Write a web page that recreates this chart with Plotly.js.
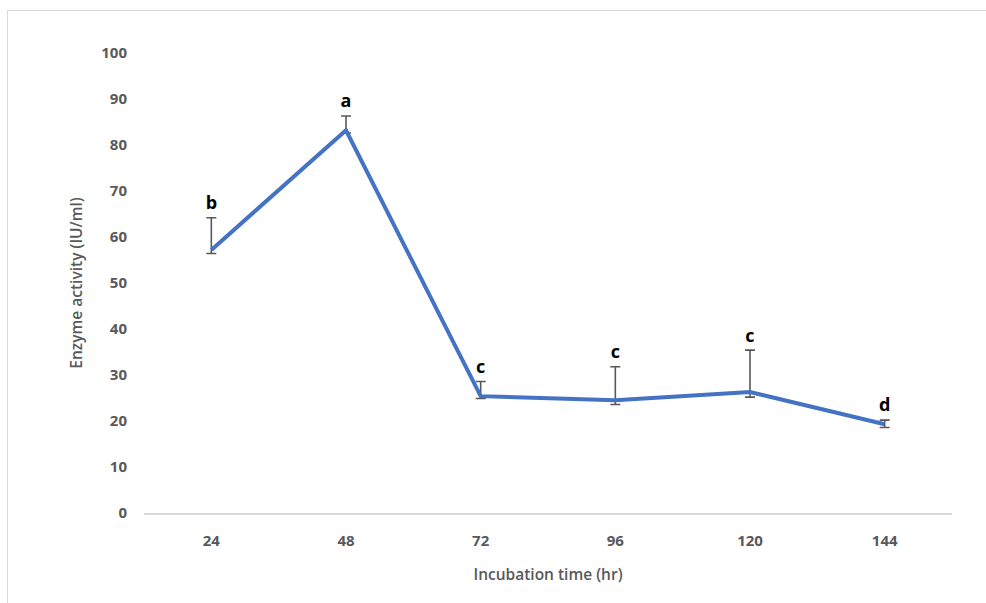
<!DOCTYPE html>
<html>
<head>
<meta charset="utf-8">
<script src="https://cdn.plot.ly/plotly-3.0.1.min.js"></script>
<style>
  html, body { margin: 0; padding: 0; background: #fff; }
  #wrap { position: relative; width: 986px; height: 603px; overflow: hidden; }
  #chart { width: 986px; height: 603px; }
  #frame { position: absolute; left: 7px; top: 10px; width: 1000px; height: 700px;
           border-left: 1.5px solid #d9d9d9; border-top: 1.5px solid #d9d9d9; pointer-events: none; }
</style>
</head>
<body>
<div id="wrap">
  <div id="chart"></div>
  <div id="frame"></div>
</div>
<script>
const times = ['24', '48', '72', '96', '120', '144'];
const activity = [57.2, 83.2, 25.4, 24.5, 26.3, 19.3];
const errPlus = [7.0, 3.1, 3.2, 7.3, 9.1, 0.9];
const errMinus = [0.8, 0.6, 0.5, 0.9, 1.1, 0.7];
const letters = ['b', 'a', 'c', 'c', 'c', 'd'];

const FONT = 'Open Sans, Liberation Sans, sans-serif';
const tickFont = { family: FONT, size: 15, color: '#595959', weight: 'bold' };
const titleFont = { family: FONT, size: 15.5, color: '#595959', weight: 600 };

const trace = {
  x: times,
  y: activity,
  type: 'scatter',
  mode: 'lines',
  line: { color: '#4472C4', width: 4 },
  error_y: {
    type: 'data', symmetric: false,
    array: errPlus, arrayminus: errMinus,
    color: '#595959', thickness: 1.6, width: 5
  },
  hoverinfo: 'skip'
};

const labelTrace = {
  x: times,
  y: activity.map((v, i) => v + errPlus[i] + 0.9),
  type: 'scatter',
  mode: 'text',
  text: letters,
  textposition: 'top center',
  textfont: { family: FONT, size: 18, color: '#000000', weight: 'bold' },
  hoverinfo: 'skip',
  cliponaxis: false
};

const layout = {
  width: 986, height: 603,
  margin: { l: 144, r: 34, t: 53, b: 89.5 },
  paper_bgcolor: '#fff', plot_bgcolor: '#fff',
  showlegend: false,
  xaxis: {
    type: 'category',
    range: [-0.5, 5.5],
    showgrid: false, zeroline: false,
    showline: true, linecolor: '#d9d9d9', linewidth: 1.5,
    ticks: '', tickfont: tickFont, ticklabelstandoff: 13,
    title: { text: 'Incubation time (hr)', standoff: 20, font: titleFont }
  },
  yaxis: {
    range: [0, 100], dtick: 10,
    showgrid: false, zeroline: false, showline: false,
    ticks: '', tickfont: tickFont, ticklabelstandoff: 16,
    title: { text: 'Enzyme activity (IU/ml)', standoff: 14, font: titleFont }
  }
};

Plotly.newPlot('chart', [trace, labelTrace], layout, { displayModeBar: false, staticPlot: true });
</script>
</body>
</html>
